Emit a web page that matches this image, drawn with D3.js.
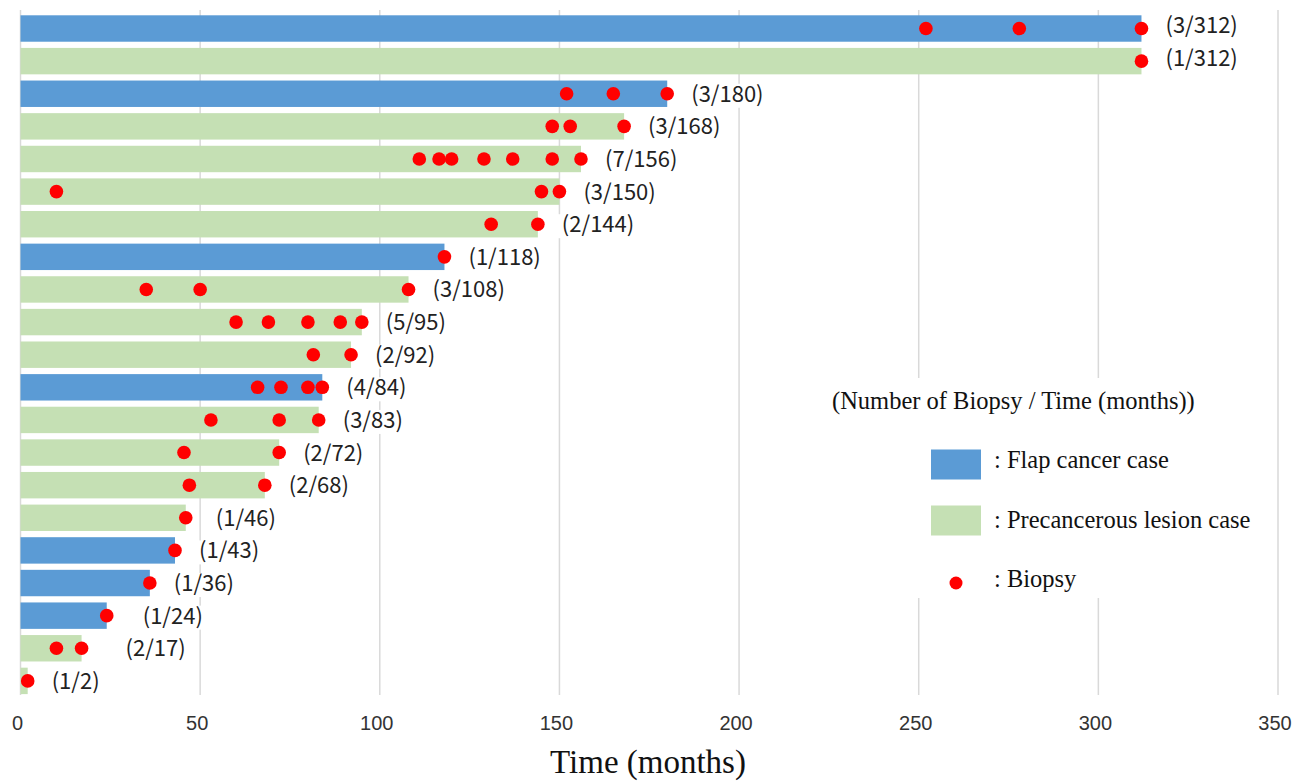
<html>
<head>
<script src="https://d3js.org/d3.v7.min.js"></script>
<style>
  body { margin: 0; background: #fff; }
</style>
</head>
<body>
<svg id="chart" width="1309" height="781"></svg>
<script>
// one row per case, top to bottom
const caseType = ['flap', 'pre', 'flap', 'pre', 'pre', 'pre', 'pre', 'flap', 'pre', 'pre', 'pre',
                  'flap', 'pre', 'pre', 'pre', 'pre', 'flap', 'flap', 'flap', 'pre', 'pre'];
const months = [312, 312, 180, 168, 156, 150, 144, 118, 108, 95, 92, 84, 83, 72, 68, 46, 43, 36, 24, 17, 2];
const biopsies = [
  [252, 278, 312], [312], [152, 165, 180], [148, 153, 168],
  [111, 116.5, 120, 129, 137, 148, 156], [10, 145, 150], [131, 144], [118],
  [35, 50, 108], [60, 69, 80, 89, 95], [81.5, 92], [66, 72.5, 80, 84],
  [53, 72, 83], [45.5, 72], [47, 68], [46], [43], [36], [24], [10, 17], [2]
];
const xTicks = [0, 50, 100, 150, 200, 250, 300, 350];

const legendItems = [
  { key: 'flap', text: ': Flap cancer case' },
  { key: 'pre', text: ': Precancerous lesion case' },
  { key: 'dot', text: ': Biopsy' }
];

const colors = { flap: '#5B9BD5', pre: '#C5E0B4', dot: '#FF0000' };

// small hand nudges for the data labels (px), like the moved labels in the original
const labelNudge = { 0: { dx: 0, dy: -3 }, 1: { dx: 0, dy: -3 }, 15: { dx: 6, dy: 0 }, 18: { dx: 12, dy: 0 }, 19: { dx: 20, dy: 0 } };

const svg = d3.select('svg#chart');

const x = d3.scaleLinear().domain([0, 350]).range([20.5, 1278]);
const y = d3.scaleBand()
            .domain(d3.range(months.length))
            .range([12.2, 697.2])
            .paddingInner(0.19)
            .paddingOuter(0.095);

// gridlines
svg.append('g')
   .selectAll('line')
   .data(xTicks)
   .join('line')
   .attr('x1', d => x(d)).attr('x2', d => x(d))
   .attr('y1', 10).attr('y2', 695)
   .attr('stroke', '#d9d9d9')
   .attr('stroke-width', 1.5);

// tick labels
svg.append('g')
   .selectAll('text')
   .data(xTicks)
   .join('text')
   .attr('x', d => x(d) - 3)
   .attr('y', 730)
   .attr('text-anchor', 'middle')
   .attr('font-family', 'Liberation Sans, Arial, sans-serif')
   .attr('font-size', 20)
   .attr('fill', '#333')
   .text(d => d);

svg.append('text')
   .attr('x', 648)
   .attr('y', 773)
   .attr('text-anchor', 'middle')
   .attr('font-family', 'Liberation Serif, Times New Roman, serif')
   .attr('font-size', 33)
   .attr('fill', '#111')
   .text('Time (months)');

const rows = months.map((m, i) => ({ i, m, type: caseType[i], dots: biopsies[i] }));

// data labels with white boxes (they hide the gridlines behind them)
const labels = svg.append('g');
labels.selectAll('g.lab')
      .data(rows)
      .join('g')
      .attr('class', 'lab')
      .each(function(d) {
          const n = labelNudge[d.i] || { dx: 0, dy: 0 };
          const cy = y(d.i) + y.bandwidth() / 2 + 2 + n.dy;
          const g = d3.select(this);
          const t = g.append('text')
                     .attr('x', x(d.m) + 24 + n.dx)
                     .attr('y', cy)
                     .attr('dominant-baseline', 'middle')
                     .attr('font-family', 'Noto Sans CJK JP, Noto Sans, sans-serif')
                     .attr('font-size', 22)
                     .attr('fill', '#222')
                     .text(`(${d.dots.length}/${d.m})`);
          const b = t.node().getBBox();
          g.insert('rect', 'text')
           .attr('x', b.x - 4).attr('y', cy - 12)
           .attr('width', b.width + 8).attr('height', 24)
           .attr('fill', '#fff');
      });

// bars
svg.append('g')
   .selectAll('rect')
   .data(rows)
   .join('rect')
   .attr('x', x(0))
   .attr('y', d => y(d.i))
   .attr('width', d => x(d.m) - x(0))
   .attr('height', y.bandwidth())
   .attr('fill', d => colors[d.type]);

// biopsy dots
svg.append('g')
   .selectAll('circle')
   .data(rows.flatMap(r => r.dots.map(v => ({ i: r.i, v }))))
   .join('circle')
   .attr('cx', d => x(d.v))
   .attr('cy', d => y(d.i) + y.bandwidth() / 2)
   .attr('r', 6.8)
   .attr('fill', colors.dot);

// legend
const legend = svg.append('g');
legend.append('rect')
      .attr('x', 815).attr('y', 378)
      .attr('width', 448).attr('height', 220)
      .attr('fill', '#fff');
legend.append('text')
      .attr('x', 832).attr('y', 409)
      .attr('font-family', 'Liberation Serif, Times New Roman, serif')
      .attr('font-size', 24.5)
      .attr('fill', '#111')
      .text('(Number of Biopsy / Time (months))');

const items = legend.selectAll('g.item')
      .data(legendItems)
      .join('g')
      .attr('class', 'item');

items.filter(d => d.key !== 'dot')
     .append('rect')
     .attr('x', 931)
     .attr('y', (d, i) => 449.5 + i * 56)
     .attr('width', 50).attr('height', 30)
     .attr('fill', d => colors[d.key]);

items.filter(d => d.key === 'dot')
     .append('circle')
     .attr('cx', 956).attr('cy', 583)
     .attr('r', 6.5)
     .attr('fill', colors.dot);

items.append('text')
     .attr('x', 994)
     .attr('y', (d, i) => 468 + i * 59.5)
     .attr('font-family', 'Liberation Serif, Times New Roman, serif')
     .attr('font-size', 24.5)
     .attr('fill', '#111')
     .text(d => d.text);
</script>
</body>
</html>
